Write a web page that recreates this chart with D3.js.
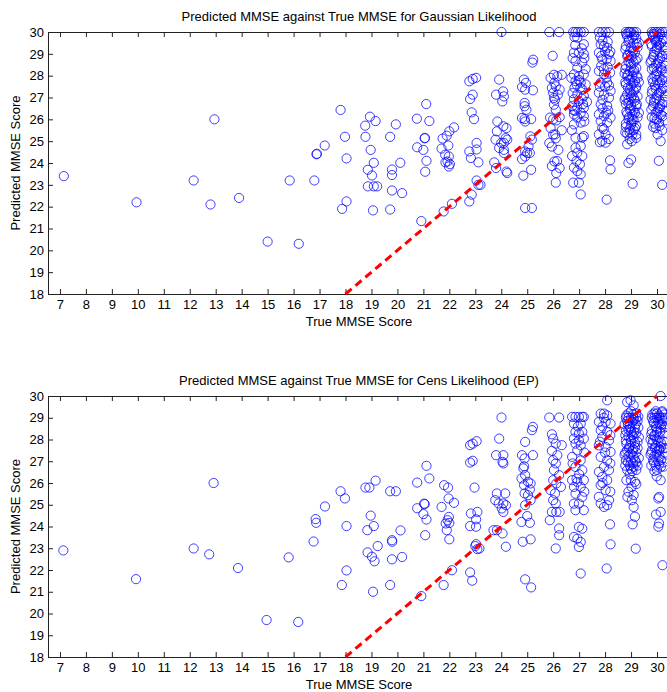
<!DOCTYPE html>
<html>
<head>
<meta charset="utf-8">
<script src="https://cdnjs.cloudflare.com/ajax/libs/d3/7.8.5/d3.min.js"></script>
<style>
body{margin:0;background:#fff}
svg{display:block;font-family:"Liberation Sans",Arial,sans-serif}
.axis text{font-size:13px;fill:#000}
.axis line,.axis path{stroke:#222}
</style>
</head>
<body>
<div id="chart"></div>
<script>
// true score (x, jittered) and predicted score (y)
var titles=["Predicted MMSE against True MMSE for Gaussian Likelihood",
            "Predicted MMSE against True MMSE for Cens Likelihood (EP)"]
var xTicks=d3.range(7,31)
var yTicks=d3.range(18,31)
var diagonal=[[18,18],[30,30]]

var gaussPts=[
[7.15,23.4],[9.95,22.2],[12.15,23.2],[12.8,22.1],[12.95,26.0],[13.9,22.4],[15.0,20.4],[15.85,23.2],[16.2,20.3],[16.8,23.2],[16.88,24.4],[16.9,24.42],[17.2,24.8],
[17.81,26.43],[17.98,25.2],[18.04,24.21],[18.04,22.24],[17.87,21.9],
[18.94,26.12],[19.16,25.92],[18.76,25.71],[18.77,25.2],[18.97,24.6],[19.09,24.01],[18.86,23.69],[19.02,23.43],[18.86,22.93],[19.09,22.93],[19.22,22.93],[19.06,21.83],
[19.94,25.77],[19.72,25.2],[19.79,23.7],[19.79,23.45],[20.11,24.01],[19.79,22.74],[20.18,22.62],[19.72,21.87],
[20.75,26.03],[21.11,26.7],[21.23,25.92],[21.05,25.13],[21.06,25.15],[20.76,24.72],[21.0,24.6],[21.12,24.1],[21.07,23.6],[20.92,21.34],
[22.18,25.63],[22.0,25.45],[21.9,25.25],[21.74,25.12],[21.7,24.66],[21.96,24.8],[21.84,24.38],[21.98,24.3],[21.93,24.07],[21.85,24.03],[22.02,23.95],[21.98,23.84],[21.78,21.78],[22.1,22.13],
[22.77,27.74],[22.9,27.85],[23.03,27.9],[22.9,27.13],[22.8,26.93],[22.86,26.32],[22.95,26.01],[23.05,24.92],[22.77,24.53],[23.05,24.62],[23.12,24.03],[22.83,24.23],[23.05,23.2],[23.12,23.0],[23.2,23.0],[22.86,22.55],[22.77,22.24],
[24.01,30.0],[23.92,27.82],[23.8,27.13],[24.07,27.28],[24.1,27.05],[24.04,26.82],[23.85,25.9],[23.83,25.45],[23.78,25.07],[24.08,25.68],[24.2,25.6],[24.17,25.14],[24.1,24.92],[24.0,24.92],[23.92,24.69],[24.1,24.6],[24.23,25.07],[23.73,24.03],[23.8,23.77],[24.1,24.46],[24.2,23.61],[24.23,23.54],
[25.23,28.73],[25.2,28.6],[24.87,27.82],[24.95,27.67],[24.8,27.48],[24.92,27.36],[25.22,27.33],[24.9,26.75],[24.9,26.6],[24.97,26.44],[24.8,26.06],[24.9,26.01],[25.15,26.01],[24.92,25.9],[25.12,25.22],[25.18,25.07],[25.05,24.76],[24.92,24.53],[25.0,24.46],[25.1,24.46],[24.92,24.3],[24.8,24.18],[25.15,23.69],[24.85,23.42],[24.92,21.94],[25.18,21.94],
[25.85,30.0],[26.23,30.0],[25.98,28.91],[26.03,28.04],[26.16,27.97],[26.33,28.04],[25.95,27.44],[26.1,27.51],[26.25,27.36],[26.0,27.21],[26.18,27.13],[26.03,26.98],[26.07,26.9],[26.03,26.67],[26.1,26.44],[26.0,26.0],[26.25,26.1],[26.12,25.95],[25.9,25.6],[26.33,25.5],[26.0,25.3],[26.1,25.13],[25.85,24.92],[25.95,24.75],[26.2,24.6],[26.05,24.07],[26.25,23.77],[26.12,23.54],[26.1,23.1],[25.9,27.9],[26.05,27.68],[25.88,26.08],[26.08,25.31],[26.15,24.09],[25.95,23.86],
[26.77,30],[26.86,30],[27.06,30],[27.18,30],[26.95,30],[26.82,29.77],[26.93,29.74],[27.18,29.44],[26.8,29.05],[26.99,29.05],[27.18,29.0],[26.86,28.67],[27.12,28.6],[26.93,28.37],
[26.8,28.06],[26.99,27.98],[27.18,28.06],[26.86,27.75],[27.06,27.68],[26.82,27.45],[27.12,27.37],[26.93,27.14],[27.18,27.07],[26.8,26.92],[26.99,26.84],
[26.73,26.6],[26.93,26.53],[27.18,26.53],[27.06,26.3],[26.8,26.23],[27.18,26.15],[26.93,26.08],[27.06,25.85],[26.8,25.77],[26.86,25.16],[27.18,25.23],[27.12,25.16],
[26.86,24.7],[27.06,24.78],[26.93,24.47],[26.73,24.32],[27.12,24.32],[26.9,24.09],[27.03,23.94],[26.8,23.79],[26.93,23.63],[27.06,23.48],[26.77,23.1],[26.99,23.1],[27.06,22.56],
[27.25,28.3],[26.7,27.9],[27.25,27.6],[26.75,27.2],[27.3,26.8],[26.85,26.4],[27.2,25.9],[26.72,25.5],[27.0,27.8],[27.1,26.95],
[26.85,29.4],[27.1,29.25],[26.75,28.8],[27.2,28.8],[26.9,27.6],[27.05,27.45],[26.8,26.4],[27.15,26.7],
[27.76,30],[28.02,30],[28.15,30],[27.9,30],[27.83,29.44],[27.96,29.36],[28.08,29.28],[27.76,29.05],[28.15,28.98],[27.89,28.75],[28.06,28.75],[28.21,28.67],
[27.76,28.21],[27.96,28.06],[28.19,28.14],[27.83,27.68],[28.08,27.68],[28.21,27.3],[27.76,27.22],[27.96,27.14],[28.15,26.99],
[27.83,26.69],[28.08,26.61],[27.76,26.23],[27.96,26.15],[28.21,26.08],[27.83,25.92],[28.08,25.85],[27.89,25.62],[27.76,25.31],[28.02,25.31],[27.89,25.01],[28.02,24.93],
[28.19,24.12],[28.21,23.71],[28.06,22.32],[27.9,29.6],[28.0,29.1],[28.1,28.4],[27.85,28.45],[28.0,27.5],[27.9,26.9],[28.12,26.4],[27.95,25.55],[28.15,25.1],[27.8,24.95],
[27.8,29.75],[28.1,29.55],[27.85,28.9],[28.2,29.1],[27.95,28.3],[28.05,27.9],[27.8,27.5],[28.15,27.55],[27.9,26.5],[28.05,26.3],
[28.8,30],[28.9,30],[29.0,30],[29.1,30],[29.2,30],[28.95,30],
[28.85,29.8],[29.05,29.75],[29.2,29.7],[28.9,29.55],[29.1,29.5],[28.8,29.35],[29.0,29.3],[29.25,29.3],[28.95,29.1],[29.15,29.05],[28.85,28.9],[29.05,28.85],[29.25,28.8],[28.9,28.65],[29.1,28.6],[28.8,28.45],[29.0,28.4],[29.2,28.35],[28.95,28.2],[29.1,28.15],
[28.85,28.0],[29.05,27.95],[29.25,27.9],[28.9,27.8],[29.15,27.75],[28.8,27.6],[29.0,27.55],[29.2,27.5],[28.95,27.35],[29.1,27.3],[28.85,27.15],[29.05,27.1],[29.25,27.05],[28.9,26.9],[29.15,26.85],[28.8,26.7],[29.0,26.65],[29.2,26.6],[28.95,26.45],[29.1,26.4],
[28.85,26.25],[29.05,26.2],[29.25,26.1],[28.9,26.0],[29.1,25.95],[28.8,25.8],[29.0,25.75],[29.2,25.7],[28.95,25.55],[29.1,25.5],[28.85,25.35],[29.05,25.3],[28.95,25.1],[29.2,25.15],[28.85,24.86],[29.03,25.0],[29.0,24.16],[28.9,24.0],[29.06,23.05],
[28.75,28.1],[29.3,29.5],[28.75,26.9],[29.3,27.7],[29.3,26.3],[28.78,25.4],[29.0,28.9],[29.0,27.0],[29.05,26.0],
[28.82,29.9],[29.12,29.85],[28.92,29.65],[29.22,29.45],[28.78,29.2],[29.08,29.15],[28.88,28.95],[29.18,28.7],[28.98,28.55],[28.78,28.3],[29.12,28.25],[28.88,28.05],[29.22,28.0],[28.98,27.85],[28.78,27.7],[29.08,27.65],
[28.88,27.45],[29.18,27.4],[28.98,27.2],[28.78,27.0],[29.12,26.95],[28.9,26.75],[29.22,26.7],[28.98,26.5],[28.82,26.35],[29.15,26.3],[28.92,26.1],[29.02,25.85],[28.8,25.65],[29.15,25.6],[28.95,25.4],[29.2,25.3],
[29.8,30],[29.9,30],[30.0,30],[30.1,30],[30.2,30],[30.3,30],
[29.85,29.8],[30.05,29.75],[30.25,29.7],[29.95,29.55],[30.15,29.5],[29.8,29.35],[30.0,29.3],[30.3,29.3],[29.9,29.1],[30.1,29.05],[30.2,28.9],[29.85,28.85],[30.05,28.7],[30.25,28.6],[29.95,28.5],[30.15,28.4],[29.8,28.3],[30.0,28.2],[30.3,28.15],[29.9,28.0],
[30.1,27.95],[30.2,27.8],[29.85,27.7],[30.05,27.6],[30.25,27.5],[29.95,27.4],[30.15,27.3],[29.8,27.2],[30.0,27.1],[30.3,27.05],[29.9,26.9],[30.1,26.85],[30.2,26.7],[29.85,26.6],[30.05,26.5],[30.25,26.4],[29.95,26.3],[30.15,26.2],[29.8,26.1],[30.0,26.0],
[30.3,25.95],[29.9,25.8],[30.1,25.7],[29.95,25.6],[30.2,25.5],[30.02,25.31],[30.14,25.0],[30.07,24.1],[30.2,23.0],
[30.35,29.0],[29.75,28.6],[30.35,27.3],[29.75,26.9],[30.0,29.6],[30.0,27.8],[30.1,26.5],[29.9,29.9],
[29.82,29.9],[30.12,29.9],[29.92,29.65],[30.22,29.6],[29.78,29.45],[30.08,29.4],[29.98,29.2],[30.28,29.15],[29.88,28.95],[30.12,28.8],[29.78,28.7],[30.02,28.55],[30.32,28.45],[29.88,28.35],[30.18,28.25],[29.98,28.05],
[30.28,27.95],[29.82,27.85],[30.12,27.7],[29.92,27.55],[30.22,27.4],[29.82,27.35],[30.08,27.2],[29.98,26.95],[30.28,26.8],[29.88,26.75],[30.12,26.6],[29.78,26.45],[30.02,26.35],[30.22,26.15],[29.9,26.05],[30.08,25.85],[29.85,25.65]
]

var censPts=[
[7.13,22.9],[9.93,21.58],[12.15,22.99],[12.75,22.72],[12.92,26.0],[13.86,22.09],[14.96,19.7],[15.81,22.58],[16.18,19.61],[16.77,23.31],[16.85,24.34],[16.87,24.17],[17.21,24.92],
[17.81,25.62],[17.98,25.29],[18.04,24.02],[18.04,21.98],[17.86,21.31],
[18.77,25.79],[18.92,25.79],[19.16,26.11],[18.97,24.5],[19.09,24.02],[18.84,23.83],[19.24,23.1],[18.85,22.81],[19.02,22.61],[19.12,22.4],[19.06,21.0],
[19.72,25.62],[19.94,25.62],[20.12,23.82],[19.79,23.37],[19.8,23.3],[19.79,22.49],[20.18,22.6],[19.72,21.31],
[20.76,26.02],[21.12,26.79],[21.23,26.21],[21.05,25.03],[21.03,25.05],[20.76,24.84],[21.0,24.57],[21.12,24.32],[21.07,23.6],[20.92,20.8],
[21.8,25.9],[21.95,25.79],[21.7,24.9],[21.97,25.29],[22.18,25.09],[21.98,24.44],[21.93,24.29],[21.86,24.14],[22.0,24.16],[21.9,23.83],[22.0,23.41],[21.78,21.31],[22.1,21.99],
[22.8,27.74],[22.9,27.81],[23.05,27.92],[22.8,26.94],[22.9,27.02],[22.97,25.79],[22.83,24.6],[23.08,24.67],[23.03,24.33],[22.8,24.02],[23.03,23.99],[23.03,23.19],[23.08,22.96],[23.16,22.99],[23.0,23.1],[22.8,21.89],[22.88,21.51],
[24.01,29.01],[23.92,28.04],[23.8,27.28],[24.08,27.28],[24.05,26.97],[24.08,26.9],[23.83,25.52],[24.15,25.52],[23.77,25.21],[23.9,25.06],[24.08,25.06],[24.18,24.98],[24.02,24.83],[24.08,24.67],[23.7,23.83],[23.83,23.83],[24.05,23.68],[24.18,23.07],
[25.22,28.58],[25.18,28.43],[24.92,27.89],[24.8,27.28],[24.9,27.13],[25.22,27.28],[24.88,26.77],[24.85,26.67],[24.92,26.36],[24.78,26.21],[25.03,26.05],[25.13,25.98],[24.88,25.9],[25.1,25.7],[24.9,25.52],[25.03,25.44],[25.13,25.21],[24.92,24.98],[24.78,24.21],[25.0,24.48],[25.1,24.17],[24.83,23.3],[25.13,23.41],[24.92,21.57],[25.15,21.2],
[25.85,29.01],[26.23,29.01],[25.95,28.24],[26.0,28.04],[26.1,27.81],[26.33,27.74],[25.95,27.48],[26.16,27.28],[26.0,27.05],[26.1,26.9],[26.03,26.59],[26.23,26.36],[26.0,26.13],[26.12,25.98],[26.3,25.82],[25.9,25.67],[26.07,25.52],[26.0,25.21],[26.1,25.06],[25.95,24.67],[26.12,24.67],[26.25,24.67],[25.87,24.29],[26.23,23.91],[26.23,23.6],[26.1,22.99],
[26.73,29.04],[26.86,29.04],[26.99,29.04],[27.12,29.04],[27.18,29.04],[26.8,28.73],[27.06,28.73],[26.86,28.35],[26.99,28.27],[27.12,28.35],
[26.8,28.04],[26.99,27.96],[27.18,28.04],[26.86,27.81],[27.06,27.73],[26.93,27.5],[26.73,27.2],[27.06,27.04],[26.86,26.74],[27.12,26.59],
[26.73,26.13],[26.93,26.05],[27.18,26.13],[26.8,25.82],[27.06,25.82],[26.86,25.51],[27.12,25.36],[26.8,25.05],[26.99,25.05],[26.86,24.75],[27.18,24.75],
[26.99,23.98],[27.12,23.9],[26.8,23.52],[26.93,23.44],[27.06,23.29],[26.99,23.06],[27.06,21.84],
[26.95,28.6],[27.2,27.4],[26.75,26.9],[27.0,26.4],[27.2,25.6],[26.9,26.2],
[28.08,29.8],[27.83,29.19],[27.96,29.19],[28.08,29.11],[27.76,28.81],[28.02,28.81],[28.21,28.73],[27.83,28.42],[28.08,28.35],[27.89,28.12],[28.15,27.96],[27.76,27.73],[28.02,27.66],[28.21,27.43],[27.83,27.2],[28.08,27.04],
[27.96,26.74],[27.76,26.51],[28.15,26.59],[27.89,26.28],[28.08,26.13],[27.83,25.9],[28.02,25.67],[27.76,25.36],[28.15,25.21],[27.83,25.06],[28.08,24.98],[27.96,24.9],[28.19,24.1],[28.21,23.18],[28.06,22.07],
[27.95,29.0],[27.9,28.6],[28.2,28.2],[27.8,27.9],[28.0,27.4],[28.2,26.9],[27.9,26.0],[28.2,25.6],
[28.85,29.72],[28.98,29.8],[29.1,29.57],
[28.8,29.0],[28.9,29.0],[29.0,29.0],[29.1,29.0],[29.2,29.0],[28.85,28.85],[29.05,28.8],[29.25,28.85],[28.95,28.6],[29.15,28.55],[28.8,28.4],[29.0,28.35],[29.2,28.3],[28.9,28.15],[29.1,28.1],
[28.8,27.95],[29.0,27.9],[29.25,27.9],[28.95,27.7],[29.15,27.65],[28.85,27.5],[29.05,27.45],[29.2,27.4],[28.9,27.25],[29.1,27.2],[28.8,27.05],[29.0,27.0],[29.2,26.95],[28.95,26.8],[29.1,26.75],[28.85,26.6],[29.05,26.55],[29.2,26.6],
[28.82,26.13],[28.99,26.13],[29.15,26.05],[29.02,25.82],[28.86,25.36],[29.03,25.21],[29.1,24.9],[29.15,24.45],[29.06,24.1],[29.18,22.98],
[28.75,28.7],[29.3,28.1],[28.75,27.3],[29.3,27.15],[29.0,29.3],[29.1,28.9],[28.9,28.45],[29.05,28.2],[28.95,26.4],[29.2,25.95],[28.9,25.6],[29.1,25.45],
[28.82,29.1],[29.08,29.15],[29.28,29.05],[28.88,28.7],[29.18,28.7],[28.98,28.5],[28.78,28.2],[29.12,28.35],[29.28,28.55],[28.98,28.0],[29.15,27.85],[28.82,27.8],[28.92,27.6],[29.25,27.6],[29.08,27.55],[28.78,27.4],
[28.98,27.35],[29.15,27.05],[28.88,26.95],[29.08,26.9],[28.78,26.8],[29.25,26.8],[29.0,26.65],[28.9,29.2],[29.2,29.2],
[30.14,30.0],[29.95,29.3],[30.2,29.25],
[29.8,29.0],[29.9,29.0],[30.0,29.0],[30.1,29.0],[30.2,29.0],[30.3,29.0],[29.85,28.85],[30.05,28.8],[30.25,28.85],[29.95,28.6],[30.15,28.55],[29.8,28.4],[30.0,28.35],[30.3,28.3],[29.9,28.15],[30.1,28.1],
[29.85,27.95],[30.05,27.9],[30.25,27.9],[29.95,27.7],[30.15,27.65],[29.8,27.5],[30.0,27.45],[30.3,27.4],[29.9,27.25],[30.1,27.2],[29.85,27.05],[30.05,27.0],[30.25,26.95],[29.95,26.8],[30.15,26.75],[29.9,26.55],
[29.99,26.31],[30.14,26.13],[30.05,25.29],[30.08,25.36],[29.96,24.55],[30.14,24.67],[30.08,24.14],[30.05,23.99],[30.21,22.22],
[30.35,28.6],[29.75,28.0],[30.35,27.6],[29.75,27.3],[30.0,29.2],[30.1,28.7],[29.9,28.2],[30.1,27.5],
[29.82,29.15],[30.08,29.1],[30.28,29.15],[29.88,28.75],[30.18,28.7],[29.98,28.5],[29.78,28.25],[30.12,28.35],[30.28,28.55],[29.98,28.0],[30.15,27.85],[29.82,27.8],[29.92,27.6],[30.25,27.6],[30.08,27.55],[29.78,27.4],
[29.98,27.3],[30.15,27.05],[29.88,26.95],[30.08,26.85],[29.78,26.8],[30.25,26.75],[30.0,26.6],[29.9,29.2],[30.2,29.3]
]

var W=667, H=692
var svg=d3.select("#chart").append("svg").attr("width",W).attr("height",H)

function drawPanel(pts,title,top,height) {
    // one subplot: box, ticks inside, circles then the red y=x line
    var left=48, right=670
    var x=d3.scaleLinear().domain([6.54,30.5]).range([left,right])
    var y=d3.scaleLinear().domain([18,30]).range([top+height,top])
    var g=svg.append("g")

    g.append("g").attr("class","axis")
        .attr("transform","translate(0,"+(top+height)+")")
        .call(d3.axisBottom(x).tickValues(xTicks).tickSizeInner(-5).tickSizeOuter(0).tickPadding(6))
    g.append("g").attr("class","axis")
        .attr("transform","translate(0,"+top+")")
        .call(d3.axisTop(x).tickValues(xTicks).tickSizeInner(-5).tickSizeOuter(0).tickFormat(""))
    g.append("g").attr("class","axis")
        .attr("transform","translate("+left+",0)")
        .call(d3.axisLeft(y).tickValues(yTicks).tickSizeInner(-5).tickSizeOuter(0).tickPadding(4))

    g.append("g").selectAll("circle")
        .data(pts)
        .enter().append("circle")
        .attr("cx",d=>x(d[0]))
        .attr("cy",d=>y(d[1]))
        .attr("r",4.6)
        .attr("fill","none")
        .attr("stroke","#0000ff")
        .attr("stroke-opacity",0.75)
        .attr("stroke-width",1)

    g.append("line")
        .attr("x1",x(diagonal[0][0])).attr("y1",y(diagonal[0][1]))
        .attr("x2",x(diagonal[1][0])).attr("y2",y(diagonal[1][1]))
        .attr("stroke","#ff0000").attr("stroke-width",3)
        .attr("stroke-dasharray","8,5")

    var cx=(left+right)/2
    g.append("text").text(title)
        .attr("x",cx).attr("y",top-11)
        .attr("text-anchor","middle").attr("font-size","13px")
    g.append("text").text("True MMSE Score")
        .attr("x",cx).attr("y",top+height+32)
        .attr("text-anchor","middle").attr("font-size","13px")
    g.append("text").text("Predicted MMSE Score")
        .attr("transform","translate(20,"+(top+height/2)+") rotate(-90)")
        .attr("text-anchor","middle").attr("font-size","13px")
}

drawPanel(gaussPts,titles[0],32,262)
drawPanel(censPts,titles[1],396,261)
</script>
</body>
</html>
